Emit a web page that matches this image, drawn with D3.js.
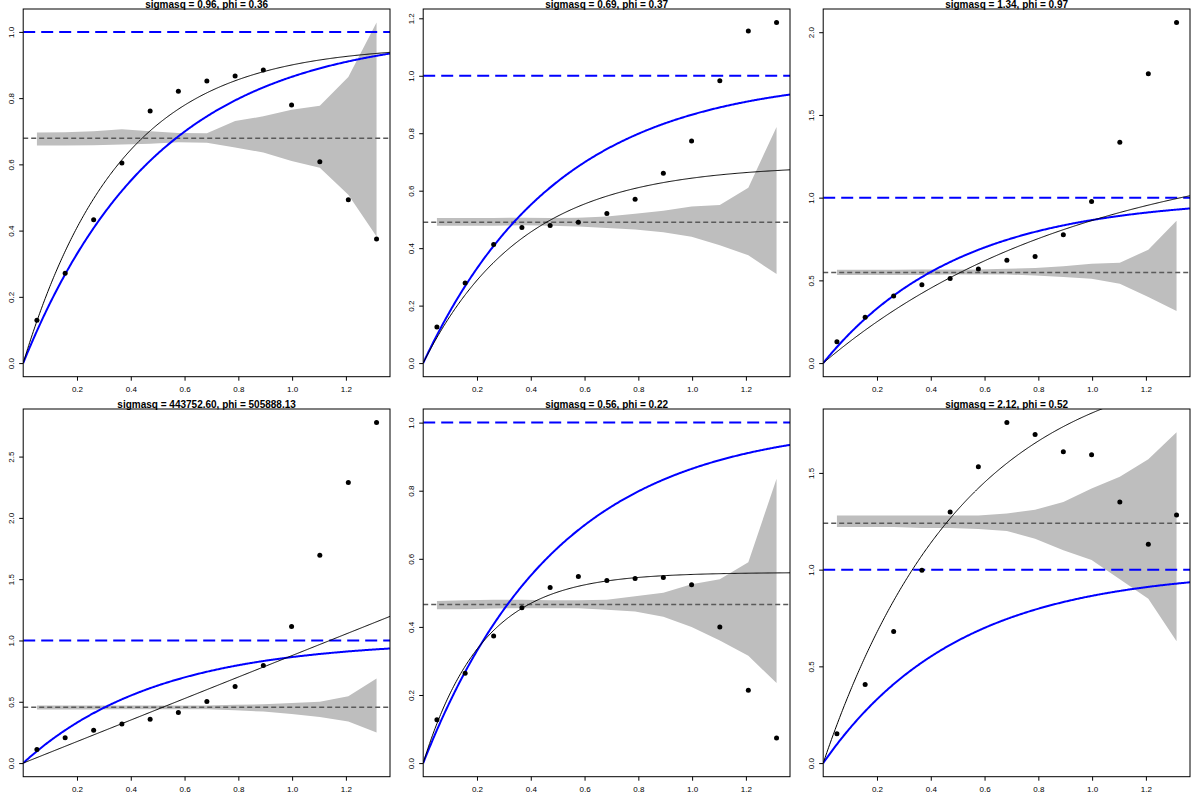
<!DOCTYPE html>
<html><head><meta charset="utf-8">
<script src="https://cdn.jsdelivr.net/npm/d3@7"></script>
<style>
body{margin:0;background:#fff;}
svg{display:block;}
text{font-family:"Liberation Sans",Arial,Helvetica,sans-serif;}
</style></head>
<body><svg id="chart" width="1200" height="800"></svg>
<script>
// ---------- data ----------
const titles = [
  "sigmasq = 0.96, phi = 0.36",
  "sigmasq = 0.69, phi = 0.37",
  "sigmasq = 1.34, phi = 0.97",
  "sigmasq = 443752.60, phi = 505888.13",
  "sigmasq = 0.56, phi = 0.22",
  "sigmasq = 2.12, phi = 0.52"
];
const sigmasq = [0.96, 0.69, 1.34, 443752.60, 0.56, 2.12];
const phi = [0.36, 0.37, 0.97, 505888.13, 0.22, 0.52];
const trueSill = 1.0;
const trueRange = 0.5;
const xMax = 1.364;
const lags = [0.051, 0.156, 0.262, 0.367, 0.472, 0.577, 0.683, 0.788, 0.893, 0.998, 1.103, 1.209, 1.314];
const xTicks = [0.2, 0.4, 0.6, 0.8, 1.0, 1.2];

const semivar1 = [0.129, 0.271, 0.433, 0.604, 0.761, 0.821, 0.852, 0.867, 0.885, 0.779, 0.608, 0.493, 0.375];
const semivar2 = [0.126, 0.279, 0.413, 0.472, 0.479, 0.490, 0.521, 0.570, 0.661, 0.773, 0.983, 1.156, 1.185];
const semivar3 = [0.129, 0.277, 0.405, 0.473, 0.512, 0.569, 0.621, 0.645, 0.776, 0.977, 1.335, 1.749, 2.058];
const semivar4 = [0.111, 0.207, 0.267, 0.319, 0.357, 0.412, 0.502, 0.624, 0.796, 1.115, 1.696, 2.288, 2.777];
const semivar5 = [0.127, 0.264, 0.373, 0.456, 0.516, 0.548, 0.536, 0.542, 0.545, 0.524, 0.400, 0.214, 0.074];
const semivar6 = [0.152, 0.406, 0.680, 0.997, 1.298, 1.532, 1.760, 1.698, 1.610, 1.594, 1.350, 1.131, 1.282];

const sampleVar = [0.679, 0.490, 0.548, 0.455, 0.466, 1.240];

const envUpper1 = [0.696, 0.697, 0.700, 0.706, 0.700, 0.695, 0.694, 0.731, 0.745, 0.765, 0.777, 0.864, 1.028];
const envLower1 = [0.657, 0.657, 0.658, 0.660, 0.662, 0.667, 0.665, 0.651, 0.636, 0.610, 0.590, 0.508, 0.382];
const envUpper2 = [0.505, 0.505, 0.505, 0.506, 0.505, 0.506, 0.510, 0.520, 0.530, 0.545, 0.550, 0.610, 0.822];
const envLower2 = [0.478, 0.478, 0.478, 0.480, 0.478, 0.475, 0.470, 0.465, 0.455, 0.440, 0.410, 0.375, 0.310];
const envUpper3 = [0.564, 0.564, 0.564, 0.565, 0.565, 0.565, 0.570, 0.575, 0.585, 0.600, 0.607, 0.685, 0.860];
const envLower3 = [0.532, 0.532, 0.532, 0.533, 0.535, 0.535, 0.535, 0.530, 0.520, 0.510, 0.480, 0.400, 0.315];
const envUpper4 = [0.470, 0.470, 0.470, 0.470, 0.470, 0.470, 0.470, 0.475, 0.480, 0.490, 0.500, 0.545, 0.690];
const envLower4 = [0.437, 0.437, 0.437, 0.440, 0.440, 0.440, 0.440, 0.430, 0.420, 0.400, 0.375, 0.340, 0.250];
const envUpper5 = [0.476, 0.478, 0.480, 0.480, 0.478, 0.478, 0.480, 0.490, 0.500, 0.525, 0.540, 0.590, 0.835];
const envLower5 = [0.452, 0.452, 0.454, 0.455, 0.455, 0.455, 0.450, 0.445, 0.430, 0.400, 0.360, 0.315, 0.235];
const envUpper6 = [1.280, 1.280, 1.280, 1.280, 1.280, 1.280, 1.290, 1.310, 1.350, 1.420, 1.480, 1.570, 1.710];
const envLower6 = [1.220, 1.220, 1.220, 1.215, 1.215, 1.210, 1.200, 1.160, 1.100, 1.050, 0.950, 0.850, 0.630];

const yTicks1 = [0.0, 0.2, 0.4, 0.6, 0.8, 1.0];
const yTicks2 = [0.0, 0.2, 0.4, 0.6, 0.8, 1.0, 1.2];
const yTicks3 = [0.0, 0.5, 1.0, 1.5, 2.0];
const yTicks4 = [0.0, 0.5, 1.0, 1.5, 2.0, 2.5];
const yTicks5 = [0.0, 0.2, 0.4, 0.6, 0.8, 1.0];
const yTicks6 = [0.0, 0.5, 1.0, 1.5];

const panels = [
  {semi: semivar1, up: envUpper1, lo: envLower1, yt: yTicks1},
  {semi: semivar2, up: envUpper2, lo: envLower2, yt: yTicks2},
  {semi: semivar3, up: envUpper3, lo: envLower3, yt: yTicks3},
  {semi: semivar4, up: envUpper4, lo: envLower4, yt: yTicks4},
  {semi: semivar5, up: envUpper5, lo: envLower5, yt: yTicks5},
  {semi: semivar6, up: envUpper6, lo: envLower6, yt: yTicks6}
];

// ---------- drawing ----------
const svg = d3.select("#chart");
const cellW = 400, cellH = 400;
const boxL = 23.2, boxR = 390, boxT = 9, boxB = 376.7;

panels.forEach((p, i) => {
  const col = i % 3, row = Math.floor(i / 3);
  const g = svg.append("g").attr("transform", `translate(${col*cellW},${row*cellH})`);
  const ymax = d3.max([trueSill, d3.max(p.semi), d3.max(p.up)]);
  const ymin = 0;
  const pad = (ymax - ymin) * 0.04;
  const x = d3.scaleLinear().domain([0, xMax]).range([boxL, boxR]);
  const y = d3.scaleLinear().domain([ymin - pad, ymax + pad]).range([boxB, boxT]);

  const clipId = "clip" + i;
  g.append("clipPath").attr("id", clipId).append("rect")
    .attr("x", boxL).attr("y", boxT).attr("width", boxR - boxL).attr("height", boxB - boxT);
  const plot = g.append("g").attr("clip-path", `url(#${clipId})`);

  // envelope
  const envPts = lags.map((d, k) => [d, p.up[k]]).concat(lags.map((d, k) => [d, p.lo[k]]).reverse());
  plot.append("path")
    .attr("d", d3.line().x(d => x(d[0])).y(d => y(d[1]))(envPts) + "Z")
    .attr("fill", "#bebebe").attr("stroke", "none");

  // sample variance line
  plot.append("line")
    .attr("x1", boxL).attr("x2", boxR)
    .attr("y1", y(sampleVar[i])).attr("y2", y(sampleVar[i]))
    .attr("stroke", "#5a5a5a").attr("stroke-width", 1.5).attr("stroke-dasharray", "5,3");

  // true sill
  plot.append("line")
    .attr("x1", boxL).attr("x2", boxR)
    .attr("y1", y(trueSill)).attr("y2", y(trueSill))
    .attr("stroke", "#0000ff").attr("stroke-width", 2).attr("stroke-dasharray", "12,6");

  const hs = d3.range(0, 401).map(k => k / 400 * xMax);
  // true model (blue)
  plot.append("path")
    .attr("d", d3.line().x(h => x(h)).y(h => y(trueSill * (1 - Math.exp(-h / trueRange))))(hs))
    .attr("fill", "none").attr("stroke", "#0000ff").attr("stroke-width", 2);
  // fitted model (black)
  plot.append("path")
    .attr("d", d3.line().x(h => x(h)).y(h => y(sigmasq[i] * (1 - Math.exp(-h / phi[i]))))(hs))
    .attr("fill", "none").attr("stroke", "#000").attr("stroke-width", 1);

  // points
  plot.selectAll("circle.pt").data(p.semi).enter().append("circle")
    .attr("cx", (d, k) => x(lags[k])).attr("cy", d => y(d)).attr("r", 2.5).attr("fill", "#000");

  // box
  g.append("rect").attr("x", boxL).attr("y", boxT).attr("width", boxR - boxL).attr("height", boxB - boxT)
    .attr("fill", "none").attr("stroke", "#000").attr("stroke-width", 1);

  // x axis
  const xa = g.append("g").attr("transform", `translate(0,${boxB})`)
    .call(d3.axisBottom(x).tickValues(xTicks).tickFormat(d3.format(".1f")).tickSize(4).tickPadding(6));
  xa.select(".domain").remove();
  xa.selectAll("text").attr("font-size", 8).attr("fill", "#000").attr("font-family", "Liberation Sans, Arial, sans-serif");

  // y axis
  const ya = g.append("g").attr("transform", `translate(${boxL},0)`)
    .call(d3.axisLeft(y).tickValues(p.yt).tickFormat(d3.format(".1f")).tickSize(4));
  ya.select(".domain").remove();
  ya.selectAll("text").remove();
  ya.selectAll("g.tick").append("text")
    .attr("transform", "translate(-10,0) rotate(-90)")
    .attr("text-anchor", "middle").attr("dy", "0.1em")
    .attr("font-size", 8).attr("fill", "#000")
    .text(d => d3.format(".1f")(d));

  // title
  g.append("text").attr("x", (boxL + boxR) / 2).attr("y", 8)
    .attr("text-anchor", "middle").attr("font-weight", "bold").attr("font-size", 10)
    .text(titles[i]);
});
</script></body></html>
